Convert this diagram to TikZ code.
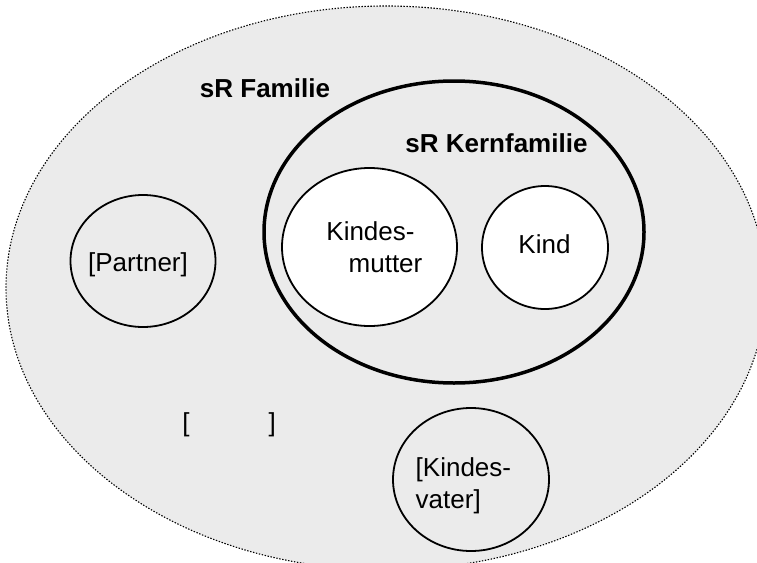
\documentclass[tikz,border=0pt]{standalone}
\usepackage{fontspec}
\setmainfont{Liberation Sans}
\usetikzlibrary{shapes.geometric}
\definecolor{famgray}{HTML}{EBEBEB}

\begin{document}
\begin{tikzpicture}[x=1pt, y=-1pt,
    every node/.style={font=\fontsize{26}{32}\selectfont, inner sep=0pt},
    familie/.style={ellipse, draw, fill=famgray, line width=1.1pt, dash pattern=on 1.4pt off 1.6pt},
    kern/.style={ellipse, draw, line width=3.5pt},
    person/.style={ellipse, draw, line width=1.8pt},
    titel/.style={anchor=base, font=\bfseries\fontsize{26}{32}\selectfont},
    txt/.style={anchor=base}]
    \useasboundingbox (0,0) rectangle (757,562);

    \node[familie, minimum width=760pt, minimum height=564pt] (familie) at (386,288) {};
    \node[kern, minimum width=380pt, minimum height=302pt] (kern) at (454,232) {};
    \node[person, fill=white, minimum width=175pt, minimum height=158pt] (mutter) at (369.5,247) {};
    \node[person, fill=white, minimum width=126pt, minimum height=123pt] (kind) at (545,247.5) {};
    \node[person, minimum width=145pt, minimum height=132pt] (partner) at (143,261) {};
    \node[person, minimum width=156pt, minimum height=143pt] (vater) at (471,479.5) {};

    \node[titel] (familie-txt) at (265,97) {sR Familie};
    \node[titel] (kern-txt) at (496.5,152) {sR Kernfamilie};
    \node[align=center, anchor=north] (mutter-txt) at (370.5,221.4) {Kindes-\\\hspace*{30pt}mutter};
    \node[txt] (kind-txt) at (544.5,253) {Kind};
    \node[txt] (partner-txt) at (138,271) {[Partner]};
    \node[align=left, anchor=north west] (vater-txt) at (415.5,457.1) {[Kindes-\\vater]};
    \node[txt] (leer-txt) at (229,431) {[\hspace*{79pt}]};
\end{tikzpicture}
\end{document}
